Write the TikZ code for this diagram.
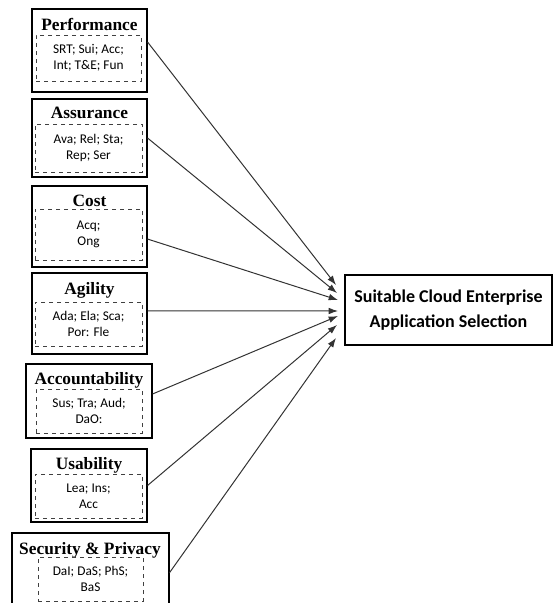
\documentclass[tikz,border=0pt]{standalone}
\usepackage{fontspec}
\setmainfont{Liberation Serif}
\newfontfamily\calfont{Carlito}
\usetikzlibrary{arrows.meta,positioning,calc}
\usepackage{xcolor}

\begin{document}
\begin{tikzpicture}[
    x=0.75pt, y=-0.75pt,
    outer/.style={
        draw=black, line width=0.8pt, fill=white,
        inner sep=0pt, minimum width=#1
    },
    inner/.style={
        draw=black!75, dashed, line width=0.75pt,
        inner sep=0pt, minimum width=#1, minimum height=33pt,
        align=center, font=\calfont\fontsize{10}{12}\selectfont
    },
    title/.style={
        font=\fontsize{13}{15}\selectfont\bfseries, inner sep=0pt
    },
    arrow/.style={
        -{Latex[length=7pt,width=5pt]}, line width=0.75pt, black!80
    }
]
\clip (0,0) rectangle (559,603);

% Factor boxes (outer frame, title, dashed sub-criteria)
\node[outer=86.25pt, minimum height=62.25pt] (perf) at (89.5,50.5) {};
\node[title] (perft) at (89.5,24) {Performance};
\node[inner=78.75pt, minimum height=34.5pt] (perfi) at (88.5,58) {SRT; Sui; Acc;\\Int; T\&E; Fun};

\node[outer=86.25pt, minimum height=58.5pt] (assur) at (89.5,138) {};
\node[title] (assurt) at (89.5,113) {Assurance};
\node[inner=80.25pt, minimum height=36pt] (assuri) at (88.5,148) {Ava; Rel; Sta;\\Rep; Ser};

\node[outer=86.25pt, minimum height=60.75pt] (cost) at (89.5,226.5) {};
\node[title] (costt) at (89.5,201) {Cost};
\node[inner=80.25pt, minimum height=38.25pt] (costi) at (88.5,234.5) {Acq;\\Ong};

\node[outer=86.25pt, minimum height=60.75pt] (agil) at (89.5,313.5) {};
\node[title] (agilt) at (89.5,290) {Agility};
\node[inner=80.25pt] (agili) at (88.5,324) {Ada; Ela; Sca;\\Por: Fle};

\node[outer=94.5pt, minimum height=55.5pt] (acct) at (89,401) {};
\node[title] (acctt) at (89,380) {Accountability};
\node[inner=79.5pt] (accti) at (89,411) {Sus; Tra; Aud;\\DaO:};

\node[outer=87pt, minimum height=54.75pt] (usab) at (89,485.5) {};
\node[title] (usabt) at (89,465) {Usability};
\node[inner=80.25pt] (usabi) at (88.5,496) {Lea; Ins;\\Acc};

\node[outer=117.75pt, minimum height=61.5pt] (secu) at (90.5,574) {};
\node[title] (secut) at (90,550) {Security \& Privacy};
\node[inner=78.75pt] (secui) at (90.5,579) {DaI; DaS; PhS;\\BaS};

% Goal box
\node[outer=155.25pt, minimum height=52.5pt, align=center,
      font=\calfont\fontsize{13.5}{18.75}\selectfont\bfseries] (goal) at (448.5,310)
    {Suitable Cloud Enterprise\\Application Selection};

% Arrow ends
\coordinate (t1) at (336,285);
\coordinate (t2) at (337,293);
\coordinate (t3) at (338,300);
\coordinate (t4) at (338,311);
\coordinate (t5) at (338,316);
\coordinate (t6) at (337,325);
\coordinate (t7) at (336,338);

\draw[arrow] ([yshift=6.4pt]perf.east) -- (t1);
\draw[arrow] (assur.east) -- (t2);
\draw[arrow] ([yshift=-9.4pt]cost.east) -- (t3);
\draw[arrow] ([yshift=2pt]agil.east) -- (t4);
\draw[arrow] ([yshift=5.25pt]acct.east) -- (t5);
\draw[arrow] (usab.east) -- (t6);
\draw[arrow] ([yshift=1pt]secu.east) -- (t7);

\end{tikzpicture}
\end{document}
